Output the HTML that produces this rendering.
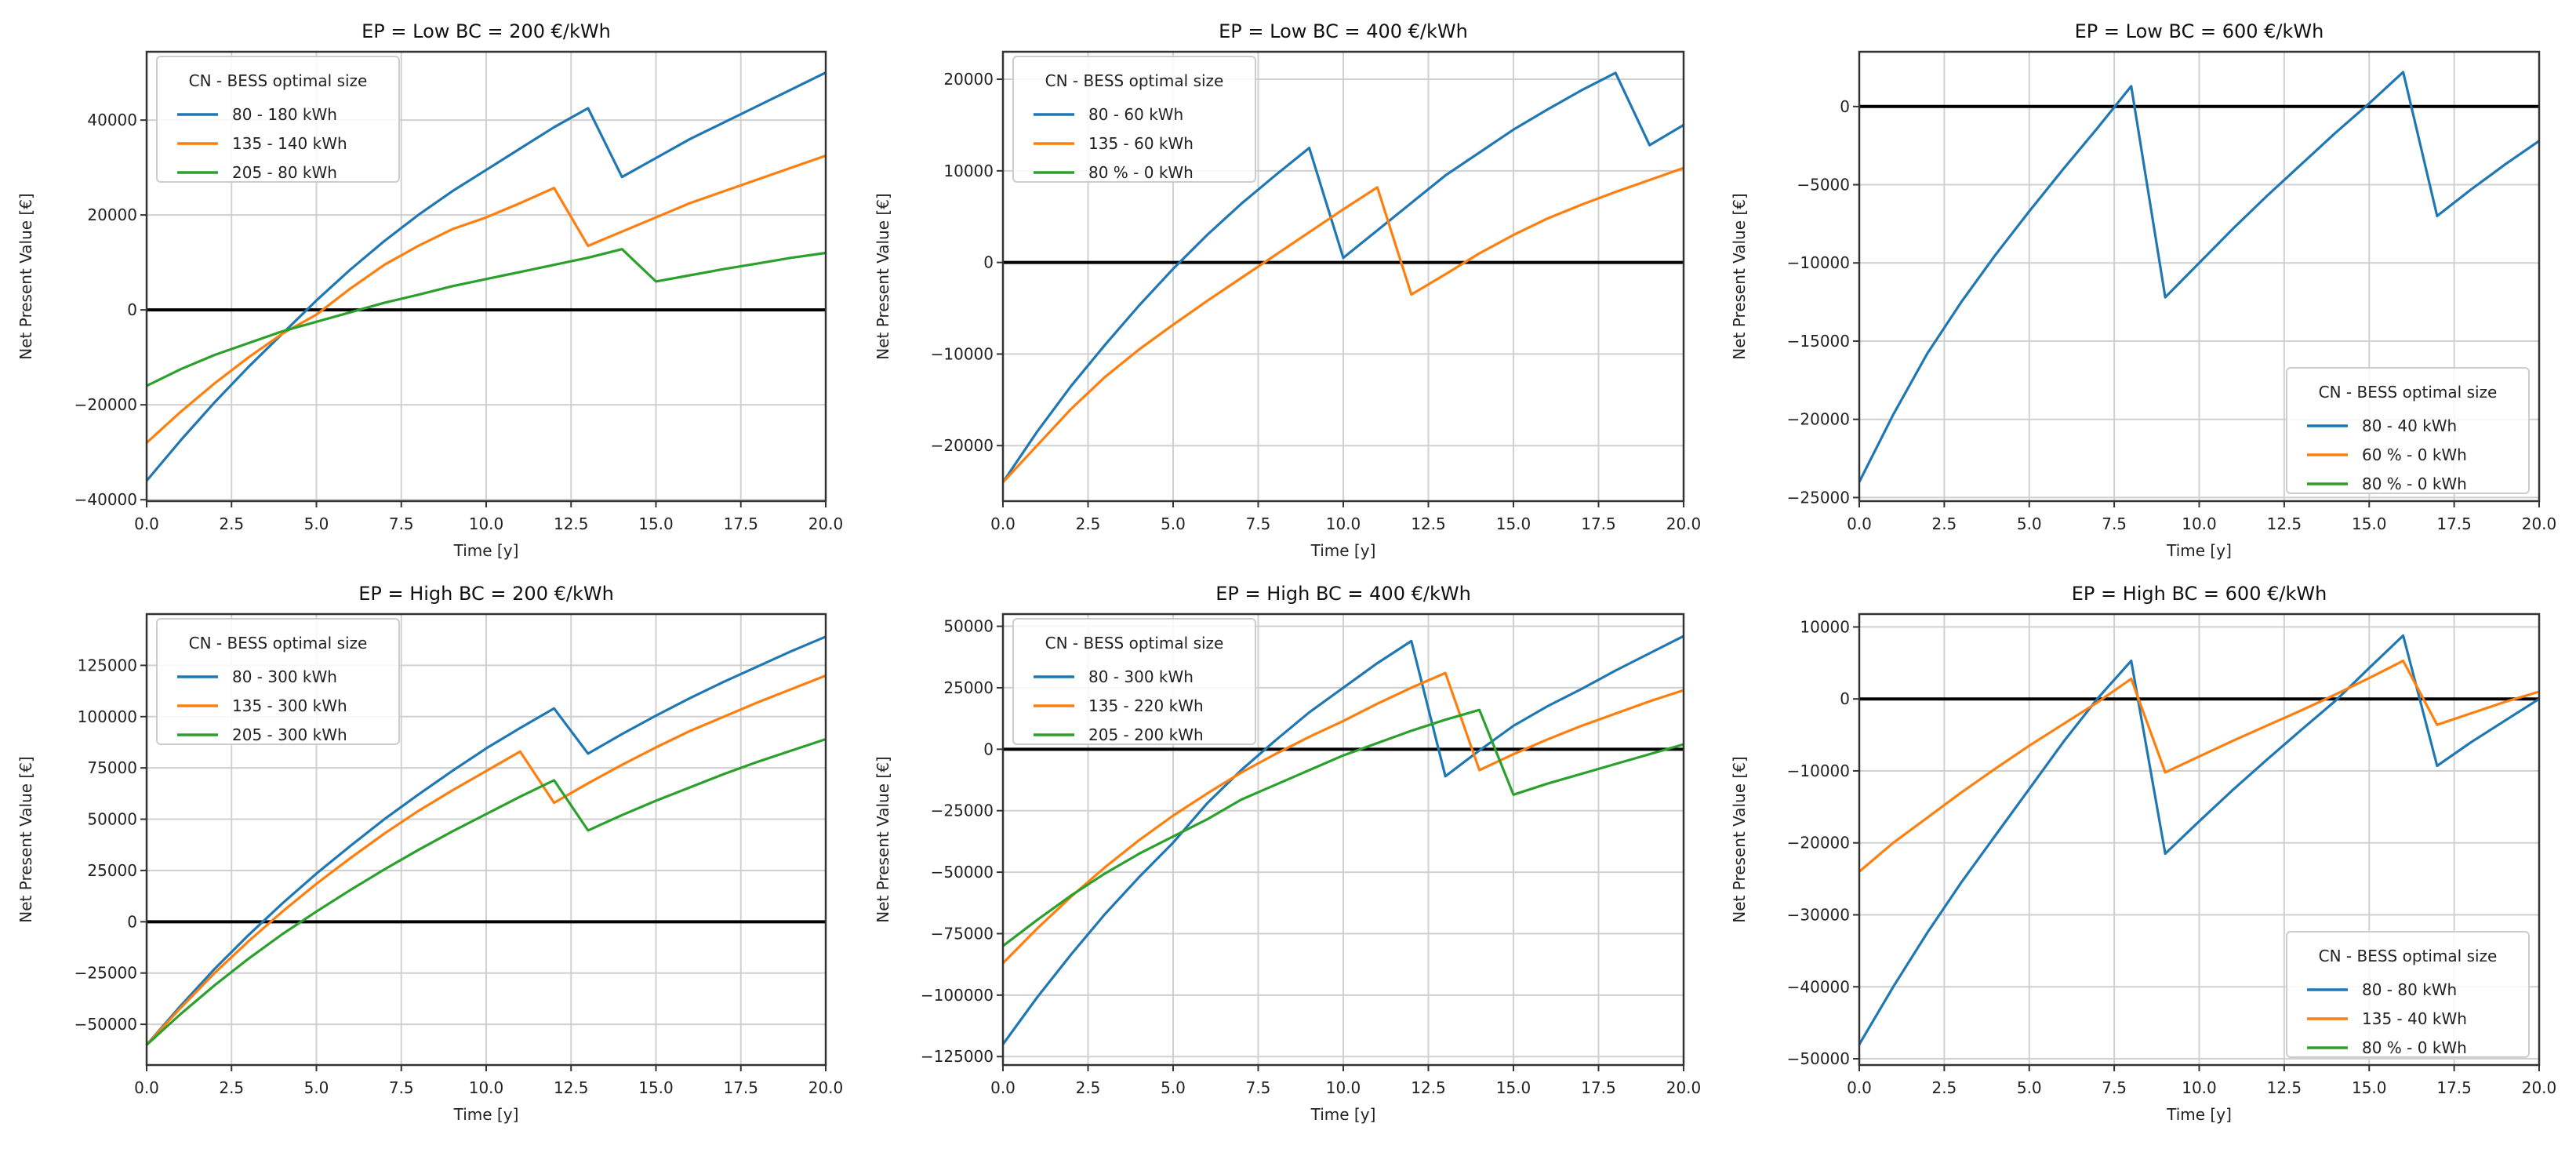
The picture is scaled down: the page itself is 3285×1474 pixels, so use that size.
<!DOCTYPE html>
<html><head><meta charset="utf-8">
<style>
html,body{margin:0;padding:0;background:#fff;}
svg{display:block;font-family:"DejaVu Sans","Liberation Sans",sans-serif;}
</style></head>
<body>
<svg id="fig" width="3285" height="1474" viewBox="0 0 3285 1474" xmlns="http://www.w3.org/2000/svg"></svg>
<script>
const years = [0,1,2,3,4,5,6,7,8,9,10,11,12,13,14,15,16,17,18,19,20];
const xTicks = [0,2.5,5,7.5,10,12.5,15,17.5,20];

const p1Titles = ["EP = Low BC = 200 €/kWh"];
const p1Labels = ["80 - 180 kWh","135 - 140 kWh","205 - 80 kWh"];
const p1Blue = [-36000,-27500,-19500,-12000,-5000,2000,8500,14500,20000,25000,29500,34000,38500,42500,28000,32000,36000,39500,43000,46500,50000];
const p1Orange = [-28000,-21500,-15500,-10000,-5000,-1000,4500,9500,13500,17000,19500,22500,25700,13500,16500,19500,22500,25000,27500,30000,32500];
const p1Green = [-16000,-12500,-9500,-7000,-4500,-2500,-500,1500,3200,5000,6500,8000,9500,11000,12800,6000,7300,8600,9800,11000,12000];
const p1YTicks = [-40000,-20000,0,20000,40000];

const p2Labels = ["80 - 60 kWh","135 - 60 kWh","80 % - 0 kWh"];
const p2Blue = [-24000,-18500,-13500,-9000,-4700,-700,3000,6400,9500,12500,500,3500,6500,9500,12000,14500,16700,18800,20700,12800,15000];
const p2Orange = [-24000,-20000,-16000,-12500,-9500,-6800,-4200,-1700,800,3300,5800,8200,-3500,-1300,1000,3000,4800,6300,7700,9000,10300];
const p2Green = [];
const p2YTicks = [-20000,-10000,0,10000,20000];

const p3Labels = ["80 - 40 kWh","60 % - 0 kWh","80 % - 0 kWh"];
const p3Blue = [-24000,-19700,-15800,-12500,-9500,-6700,-4000,-1400,1300,-12200,-10000,-7800,-5700,-3700,-1700,200,2200,-7000,-5300,-3700,-2200];
const p3Orange = [];
const p3Green = [];
const p3YTicks = [-25000,-20000,-15000,-10000,-5000,0];

const p4Labels = ["80 - 300 kWh","135 - 300 kWh","205 - 300 kWh"];
const p4Blue = [-60000,-41000,-23000,-6500,9000,23500,37000,50000,62000,73500,84500,94500,104000,82000,91500,100500,109000,117000,124500,132000,139000];
const p4Orange = [-60000,-42000,-25000,-9500,5000,18500,31000,43000,54000,64000,73500,83000,58000,67500,76500,85000,93000,100000,107000,113500,120000];
const p4Green = [-60000,-45000,-31000,-18000,-6000,5000,15500,25500,35000,44000,52500,61000,69000,44500,52000,59000,65500,72000,78000,83500,89000];
const p4YTicks = [-50000,-25000,0,25000,50000,75000,100000,125000];

const p5Labels = ["80 - 300 kWh","135 - 220 kWh","205 - 200 kWh"];
const p5Blue = [-120000,-101000,-83500,-67000,-52000,-38000,-22000,-8500,3500,15000,25000,35000,44000,-11000,-500,9500,17500,24500,32000,39000,46000];
const p5Orange = [-87000,-73000,-60000,-48000,-37000,-27000,-18000,-9500,-2000,5000,11500,18500,25000,31000,-8500,-2000,4000,9500,14500,19500,24000];
const p5Green = [-80000,-69500,-59500,-50500,-42500,-35500,-28500,-20500,-14500,-8500,-2500,2500,7500,12000,16000,-18500,-14000,-10000,-6000,-2000,2000];
const p5YTicks = [-125000,-100000,-75000,-50000,-25000,0,25000,50000];

const p6Labels = ["80 - 80 kWh","135 - 40 kWh","80 % - 0 kWh"];
const p6Blue = [-48000,-40000,-32500,-25500,-19000,-12500,-6000,0,5300,-21500,-17000,-12600,-8400,-4300,-300,4300,8800,-9300,-6000,-3000,0];
const p6Orange = [-24000,-20000,-16500,-13000,-9700,-6500,-3500,-500,2800,-10200,-8000,-5800,-3700,-1600,600,2900,5300,-3600,-2000,-400,1000];
const p6Green = [];
const p6YTicks = [-50000,-40000,-30000,-20000,-10000,0,10000];

const NS = "http://www.w3.org/2000/svg";
const svg = document.getElementById('fig');
const colors = ["#1f77b4","#ff7f0e","#2ca02c"];
const cols = [[187,1053],[1279,2147],[2371,3238]];
const rows = [[66,639],[783,1358]];

function mk(tag, attrs, parent){
  const e = document.createElementNS(NS, tag);
  for (const k in attrs) e.setAttribute(k, attrs[k]);
  (parent||svg).appendChild(e);
  return e;
}
function fmt(v){ return v<0 ? "\u2212"+Math.abs(v) : String(v); }

const panels = [
  {id:"p1", title:"EP = Low BC = 200 €/kWh", c:0, r:0, ylim:[-40300,54400], yt:p1YTicks, s:[p1Blue,p1Orange,p1Green], lab:p1Labels, leg:"ul"},
  {id:"p2", title:"EP = Low BC = 400 €/kWh", c:1, r:0, ylim:[-26060,23000], yt:p2YTicks, s:[p2Blue,p2Orange,p2Green], lab:p2Labels, leg:"ul"},
  {id:"p3", title:"EP = Low BC = 600 €/kWh", c:2, r:0, ylim:[-25230,3500], yt:p3YTicks, s:[p3Blue,p3Orange,p3Green], lab:p3Labels, leg:"lr"},
  {id:"p4", title:"EP = High BC = 200 €/kWh", c:0, r:1, ylim:[-69840,150000], yt:p4YTicks, s:[p4Blue,p4Orange,p4Green], lab:p4Labels, leg:"ul"},
  {id:"p5", title:"EP = High BC = 400 €/kWh", c:1, r:1, ylim:[-128430,54960], yt:p5YTicks, s:[p5Blue,p5Orange,p5Green], lab:p5Labels, leg:"ul"},
  {id:"p6", title:"EP = High BC = 600 €/kWh", c:2, r:1, ylim:[-50870,11790], yt:p6YTicks, s:[p6Blue,p6Orange,p6Green], lab:p6Labels, leg:"lr"}
];

panels.forEach(p => {
  const [x0,x1] = cols[p.c], [y0,y1] = rows[p.r];
  const xs = v => x0 + (v/20)*(x1-x0);
  const ys = v => y1 - (v-p.ylim[0])/(p.ylim[1]-p.ylim[0])*(y1-y0);
  const g = mk('g', {});
  
  
  // grid
  xTicks.forEach(t => {
    const l = mk('line', {x1:xs(t), x2:xs(t), y1:y0, y2:y1, stroke:"#d0d0d0", "stroke-width":2}, g);
    
    
  });
  p.yt.forEach(t => {
    const l = mk('line', {x1:x0, x2:x1, y1:ys(t), y2:ys(t), stroke:"#d0d0d0", "stroke-width":2}, g);
    
    
  });
  // zero line
  const z = mk('line', {x1:x0, x2:x1, y1:ys(0), y2:ys(0), stroke:"#000", "stroke-width":4}, g);
  
  
  // series
  p.s.forEach((arr, i) => {
    if (!arr.length) return;
    const pts = arr.map((v,k) => xs(years[k]).toFixed(1)+","+ys(v).toFixed(1)).join(" ");
    const pl = mk('polyline', {points:pts, fill:"none", stroke:colors[i], "stroke-width":3.2, "stroke-linejoin":"round"}, g);
    
    
  });
  // frame
  const fr = mk('rect', {x:x0, y:y0, width:x1-x0, height:y1-y0, fill:"none", stroke:"#333", "stroke-width":2.5}, g);
  
  
  // ticks & labels
  xTicks.forEach(t => {
    mk('line', {x1:xs(t), x2:xs(t), y1:y1, y2:y1+8, stroke:"#333", "stroke-width":2}, g);
    const tx = mk('text', {x:xs(t), y:y1+36, "text-anchor":"middle", "font-size":20, fill:"#222"}, g);
    tx.textContent = t.toFixed(1);
    
    
  });
  p.yt.forEach(t => {
    mk('line', {x1:x0-8, x2:x0, y1:ys(t), y2:ys(t), stroke:"#333", "stroke-width":2}, g);
    const tx = mk('text', {x:x0-12, y:ys(t)+7, "text-anchor":"end", "font-size":20, fill:"#222"}, g);
    tx.textContent = fmt(t);
    
    
  });
  const ti = mk('text', {x:(x0+x1)/2, y:y0-18, "text-anchor":"middle", "font-size":24, fill:"#111"}, g);
  ti.textContent = p.title;
  
  
  const xl = mk('text', {x:(x0+x1)/2, y:y1+70, "text-anchor":"middle", "font-size":20, fill:"#222"}, g);
  xl.textContent = "Time [y]";
  
  
  const lx = [40,1133,2225][p.c], ly = (y0+y1)/2;
  const yl = mk('text', {x:lx, y:ly, "text-anchor":"middle", "font-size":20, fill:"#222", transform:`rotate(-90 ${lx} ${ly})`}, g);
  yl.textContent = "Net Present Value [€]";
  
  
  // legend
  const lw = 309, lh = 160;
  const lxp = p.leg === "ul" ? x0+13 : x1-13-lw;
  const lyp = p.leg === "ul" ? y0+6 : y1-10-lh;
  const lg = mk('g', {}, g);
  
  
  mk('rect', {x:lxp, y:lyp, width:lw, height:lh, rx:5, fill:"#fff", "fill-opacity":0.85, stroke:"#ccc", "stroke-width":2}, lg);
  const lt = mk('text', {x:lxp+lw/2, y:lyp+38, "text-anchor":"middle", "font-size":20, fill:"#222"}, lg);
  lt.textContent = "CN - BESS optimal size";
  
  
  p.lab.forEach((s,i) => {
    const yy = lyp + 74 + i*37;
    mk('line', {x1:lxp+26, x2:lxp+78, y1:yy, y2:yy, stroke:colors[i], "stroke-width":3.5}, lg);
    const t = mk('text', {x:lxp+96, y:yy+7, "font-size":20, fill:"#222"}, lg);
    t.textContent = s;
    
    
  });
});
</script>
</body></html>
